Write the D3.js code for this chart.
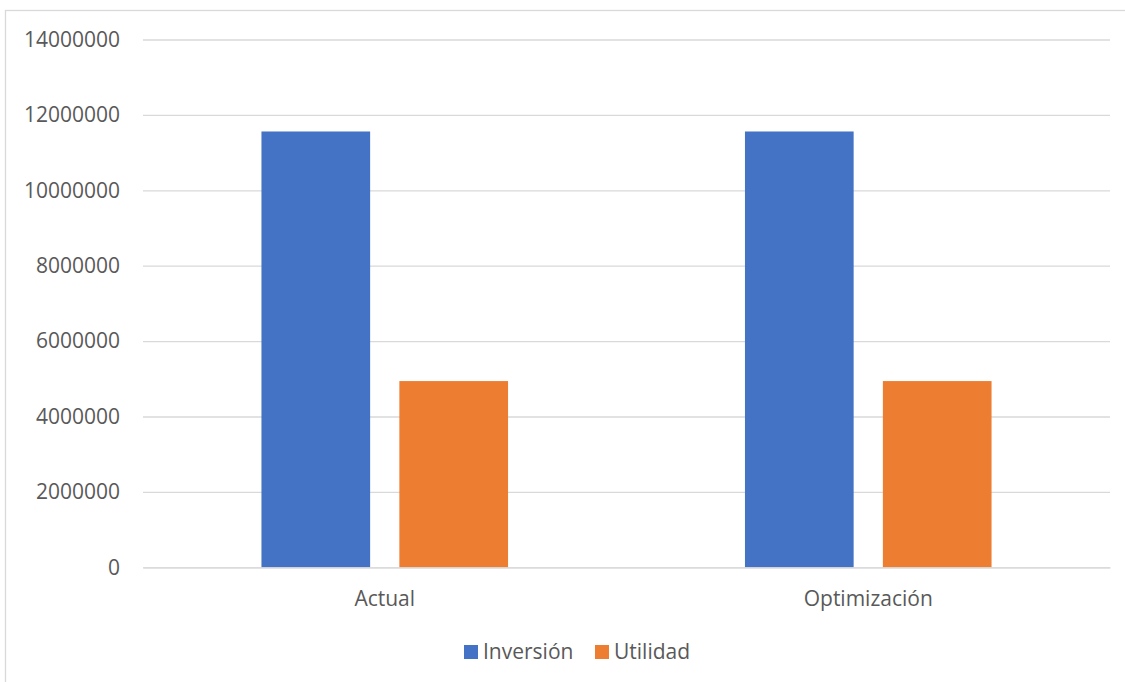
<!DOCTYPE html>
<html>
<head>
<meta charset="utf-8">
<script src="https://cdn.jsdelivr.net/npm/d3@7"></script>
<style>
  html, body { margin: 0; padding: 0; background: #fff; }
  svg { display: block; }
  text { font-family: "Open Sans", "Liberation Sans", sans-serif; fill: #595959; }
</style>
</head>
<body>
<svg id="chart" width="1125" height="682"></svg>
<script>
const categories = ["Actual", "Optimización"];
const seriesNames = ["Inversión", "Utilidad"];
const inversion = [11560000, 11560000];
const utilidad = [4940000, 4940000];
const yTicks = [0, 2000000, 4000000, 6000000, 8000000, 10000000, 12000000, 14000000];
const colors = ["#4472C4", "#ED7D31"];

const seriesValues = [inversion, utilidad];
const data = categories.map((c, i) => ({
  category: c,
  values: seriesNames.map((s, j) => ({ series: s, value: seriesValues[j][i] }))
}));

const svg = d3.select("#chart");
const W = 1125, H = 682;
const plot = { left: 143, right: 1110, top: 39.5, bottom: 567.3 };

// chart border
svg.append("rect")
  .attr("x", 5.5).attr("y", 10.5)
  .attr("width", W + 20).attr("height", H + 20)
  .attr("fill", "none").attr("stroke", "#d9d9d9").attr("stroke-width", 1.3);

const y = d3.scaleLinear().domain([0, 14000000]).range([plot.bottom, plot.top]);
const x0 = d3.scaleBand().domain(categories).range([plot.left, plot.right])
  .paddingInner(0.49).paddingOuter(0.245);
const x1 = d3.scaleBand().domain(seriesNames).range([0, x0.bandwidth()])
  .paddingInner(0.212).paddingOuter(0);
const color = d3.scaleOrdinal().domain(seriesNames).range(colors);

// gridlines + y labels via axis
const yAxis = d3.axisLeft(y).tickValues(yTicks).tickFormat(d3.format("d"))
  .tickSize(-(plot.right - plot.left)).tickPadding(23);
const gy = svg.append("g").attr("transform", `translate(${plot.left},0)`).call(yAxis);
gy.select(".domain").remove();
gy.selectAll(".tick line").attr("stroke", "#d9d9d9").attr("stroke-width", 1.3);
gy.selectAll(".tick text").attr("font-size", 21).attr("fill", "#595959")
  .attr("font-family", '"Open Sans", "Liberation Sans", sans-serif');

// bars
const groups = svg.append("g").selectAll("g").data(data).join("g")
  .attr("transform", d => `translate(${x0(d.category)},0)`);
groups.selectAll("rect").data(d => d.values).join("rect")
  .attr("x", d => x1(d.series))
  .attr("width", x1.bandwidth())
  .attr("y", d => y(d.value))
  .attr("height", d => y(0) - y(d.value))
  .attr("fill", d => color(d.series));

// x axis
const xAxis = d3.axisBottom(x0).tickSize(0).tickPadding(24);
const gx = svg.append("g").attr("transform", `translate(0,${plot.bottom})`).call(xAxis);
gx.select(".domain").attr("stroke", "#d9d9d9").attr("stroke-width", 1.3);
gx.selectAll(".tick text").attr("font-size", 21).attr("fill", "#595959")
  .attr("font-family", '"Open Sans", "Liberation Sans", sans-serif');

// legend
const legendX = [464, 595];
const legend = svg.append("g").selectAll("g").data(seriesNames).join("g")
  .attr("transform", (d, i) => `translate(${legendX[i]},645)`);
legend.append("rect").attr("width", 14).attr("height", 14).attr("fill", d => color(d));
legend.append("text").attr("x", 19).attr("y", 14).attr("font-size", 21).text(d => d);
</script>
</body>
</html>
